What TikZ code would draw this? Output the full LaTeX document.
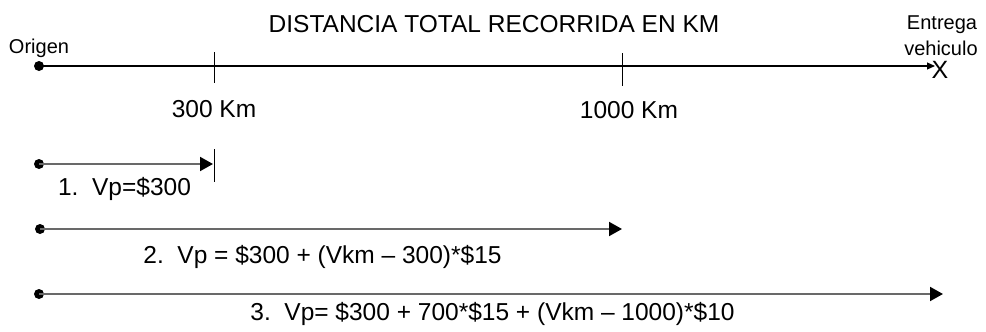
\documentclass[tikz,border=0pt]{standalone}
\usepackage{fontspec}
\setmainfont{Liberation Sans}
\usetikzlibrary{arrows.meta}
\definecolor{arrowgray}{RGB}{105,105,105}
\begin{document}
\begin{tikzpicture}[x=1pt,y=-1pt,
  big/.style={font=\fontsize{24.5}{29}\selectfont, inner sep=0pt, anchor=base},
  small/.style={font=\fontsize{20}{27}\selectfont, inner sep=0pt, anchor=base},
  dotn/.style={circle, fill=black, inner sep=0pt, minimum size=10pt},
  tickline/.style={black, line width=1pt},
  mainarrow/.style={black, line width=1.2pt, -{Triangle[length=8pt,width=7pt]}},
  casearrow/.style={arrowgray, line width=2pt, -{Triangle[length=13pt,width=14pt,color=black]}}
]
\useasboundingbox (0,0) rectangle (986,332);

% title
\node[big] (title) at (494,32) {DISTANCIA TOTAL RECORRIDA EN KM};

% main distance line
\node[dotn] (o0) at (39,66) {};
\node[small] (origen) at (39,53) {Origen};
\node[small] (entrega) at (942,29) {Entrega};
\node[small] (vehiculo) at (941,55) {vehiculo};
\node[big, font=\fontsize{25}{29}\selectfont] (x) at (940,78) {X};
\coordinate (e0) at (935,66);
\draw[mainarrow] (o0.center) -- (e0);

\coordinate (t1a) at (214,52);
\coordinate (t1b) at (214,83);
\draw[tickline] (t1a) -- (t1b);
\coordinate (t2a) at (622,53);
\coordinate (t2b) at (622,86);
\draw[tickline] (t2a) -- (t2b);
\node[big] (km300) at (214,117) {300 Km};
\node[big] (km1000) at (629,118) {1000 Km};

% case 1
\node[dotn] (o1) at (39,164) {};
\coordinate (e1) at (213,164);
\draw[casearrow] (o1.center) -- (e1);
\coordinate (t3a) at (214,149);
\coordinate (t3b) at (214,182);
\draw[tickline] (t3a) -- (t3b);
\node[big] (l1) at (124.5,195) {1.\hspace{.556em}Vp=\$300};

% case 2
\node[dotn] (o2) at (40,229) {};
\coordinate (e2) at (622,229);
\draw[casearrow] (o2.center) -- (e2);
\node[big] (l2) at (322.5,263) {2.\hspace{.556em}Vp = \$300 + (Vkm – 300)*\$15};

% case 3
\node[dotn] (o3) at (39,294) {};
\coordinate (e3) at (943,294);
\draw[casearrow] (o3.center) -- (e3);
\node[big] (l3) at (492.5,320) {3.\hspace{.556em}Vp= \$300 + 700*\$15 + (Vkm – 1000)*\$10};
\end{tikzpicture}
\end{document}
